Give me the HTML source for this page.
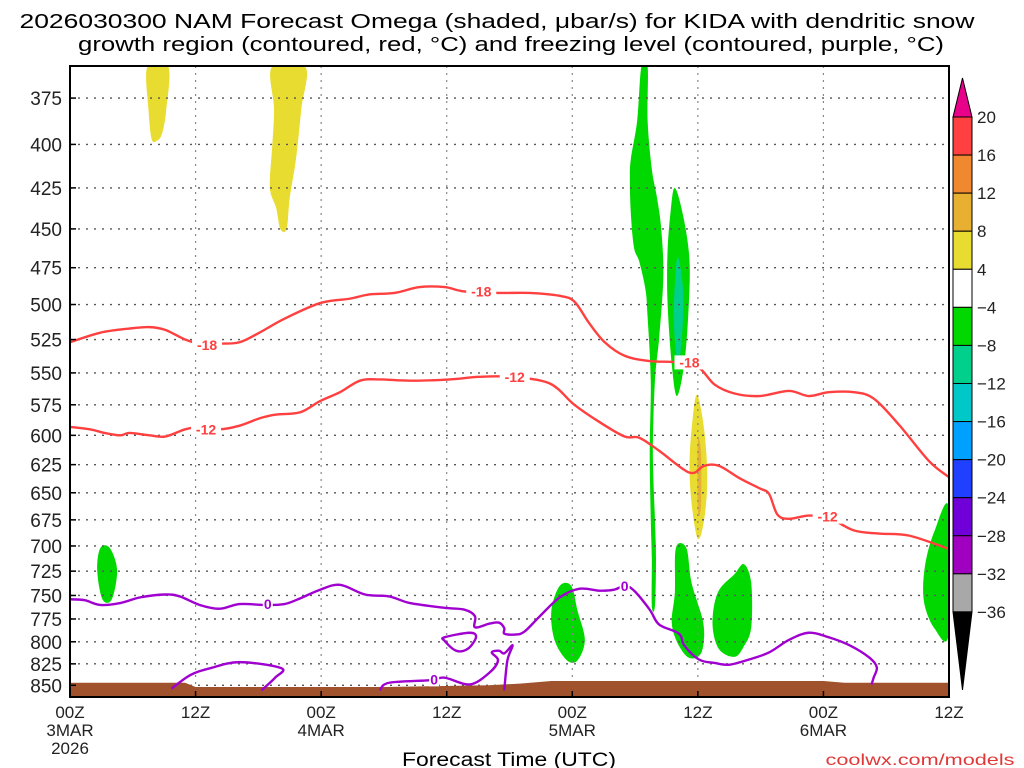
<!DOCTYPE html>
<html><head><meta charset="utf-8"><style>
body{margin:0;background:#fff;}
svg{display:block;font-family:"Liberation Sans",sans-serif;}
</style></head><body>
<svg id="c" width="1024" height="768" viewBox="0 0 1024 768" xmlns="http://www.w3.org/2000/svg">
<text x="497" y="28" text-anchor="middle" font-size="20" textLength="955" lengthAdjust="spacingAndGlyphs">2026030300 NAM Forecast Omega (shaded, μbar/s) for KIDA with dendritic snow</text>
<text x="511" y="51" text-anchor="middle" font-size="20" textLength="866" lengthAdjust="spacingAndGlyphs">growth region (contoured, red, °C) and freezing level (contoured, purple, °C)</text>
<g id="plot"></g>
<g id="cbar"></g>
<text x="509" y="766" text-anchor="middle" font-size="19" textLength="214" lengthAdjust="spacingAndGlyphs">Forecast Time (UTC)</text>
<text x="920" y="765" text-anchor="middle" font-size="16" fill="#e03838" textLength="189" lengthAdjust="spacingAndGlyphs">coolwx.com/models</text>
</svg>
<script>
const yTicks=[375,400,425,450,475,500,525,550,575,600,625,650,675,700,725,750,775,800,825,850];
const xTickHours=[0,12,24,36,48,60,72,84];
const xTickLabels=[["00Z","3MAR","2026"],["12Z"],["00Z","4MAR"],["12Z"],["00Z","5MAR"],["12Z"],["00Z","6MAR"],["12Z"]];
const cbLevels=[20,16,12,8,4,-4,-8,-12,-16,-20,-24,-28,-32,-36];
const cbColors=["#ff4040","#f08830","#e8b030","#e8dc30","#ffffff","#00d800","#00d08c","#00c8c8","#00a0ff","#2040ff","#7000d8","#a000c0","#a8a8a8"];
const sfcHours=[0,6,11,12,30,40,43,46,72,74,84];
const sfcP=[847,847,847,852,852,850,848,845,845,847,847];
const redM18H=[0,2.9,5.7,7.6,9.1,11,12.4,14.3,16.2,18.1,20.5,23.9,26.7,28.6,31,33.4,35.8,37.7,41,43.9,46.8,48.2,49.6,51.1,53,55.4,58.2,60.1,61.6,63.5,65.9,68.7,70.6,72.5,74.9,76.8,79.2,82.1,84];
const redM18P=[527,520,517,516,518,525,528,528,527,520,510,499,496,493,492,488,488,491,492,492,494,498,513,527,537,541,542,546,559,566,568,564,568,565,565,570,591,622,636];
const redM12H=[0,1.9,3.3,4.8,5.7,7.6,9.1,11,12.4,14.3,16.2,18.1,19.6,22,23.9,25.8,27.7,29.6,32.5,36.3,39.1,42,45.8,48.2,50.6,53,54.4,56.3,59.2,60.6,62,64,65.9,66.8,67.6,68.7,70.6,72.5,74.9,77.3,80.2,84];
const redM12P=[593,595,598,600,598,600,601,595,593,595,592,586,583,581,572,565,556,555,556,555,553,553,558,575,589,601,602,613,632,626,626,637,646,651,670,674,671,673,685,688,690,703];
const fz0H=[0,1.4,2.9,4.8,6.7,9.1,10.5,12.4,14.3,16.2,18.6,20.5,22,23.9,25.8,28.2,30.5,32.5,35.8,37.7,38.7,38.7,40.1,41,41.5,41.5,42.5,43.4,44.9,46.8,48.7,50.6,52,53,53.9,55.4,56.3,58.2,58.7,60.1,61.6,63,64.9,66.8,68.7,70.6,72.5,74.5,76.4,77.1,76.8,76.6];
const fz0P=[754,755,760,758,752,749,751,760,764,759,760,759,753,744,739,749,751,758,763,765,772,784,780,779,785,791,792,789,772,752,743,745,744,740,745,765,781,791,804,820,824,826,820,812,798,790,795,804,818,829,841,849];
const fzAH=[9.7,11.5,13.4,16.2,20.2,19.6,18.3];
const fzAP=[854,838,830,823,830,841,856];
const fzBH=[29.6,30.5,34.4,35.8,38.2,40.1,40.9,40.3,41,41.5,42.3,41.8,41.5];
const fzBP=[856,847,844,841,849,835,821,812,810,813,804,821,856];
const fzCH=[35.8,38.2,38.8,38,36.9,35.8,35.8];
const fzCP=[795,790,795,808,810,799,795];
const omegaVals=[6,6,-6,-6,-10,6,10,-6,-6,-6,-6,-6];
const omegaH=[
[7.4,9.4,9.2,8.8,8.3,7.8,7.5],
[19.3,22.5,22.1,21.6,21,20.7,20.1,19.7,19.1,19.3,19.5],
[54.6,55.2,55.2,55.6,56.1,56.5,56.7,56.3,55.9,55.7,55.9,56,55.9,55.6,55.6,55.5,55.4,55.5,55.2,55,54.4,53.9,53.6,53.5,53.6,54.2],
[57.8,58.6,59.2,59.1,58.7,58,57.5,57.1,57.1,57.4],
[58.1,58.6,58.5,58.1,57.7,57.8],
[59.9,60.6,60.9,60.6,60,59.4,59.2,59.4],
[60,60.3,60.3,60],
[57.9,58.9,59.4,60.5,60.5,60,59,58,57.5,57.8],
[64.4,65.1,65.1,64.4,63.5,62,61.4,61.9,63.5],
[46.8,47.9,48.5,49.2,48.5,47.5,46.3,46],
[2.9,3.8,4.5,4,3.1,2.6],
[84,84,82.6,81.6,81.7,82.6]];
const omegaP=[
[359,359,381,394,398,397,381],
[359,359,381,408,431,450,450,437,425,403,381],
[359,359,387,414,431,450,481,524,556,614,675,712,761,761,712,675,614,556,509,490,471,462,441,420,408,387],
[425,442,470,505,543,568,543,498,465,439],
[468,491,521,543,513,486],
[567,595,637,675,693,660,626,595],
[605,615,662,666],
[702,702,737,778,805,817,817,800,778,747],
[718,737,784,805,817,808,780,747,728],
[740,740,766,798,821,821,798,766],
[702,702,724,754,754,724],
[664,790,785,756,720,686]];
const labelTexts=["-18","-18","-18","-12","-12","-12","0","0","0"];
const labelH=[13.1,39.3,59.2,13,42.5,72.4,18.9,53,34.8];
const labelP=[529,491,542,595,553,672,759,740,843];

const NS="http://www.w3.org/2000/svg";
const X0=70,X1=949,PT=358.6,PB=864,Y0=66,Y1=697;
const K=(Y1-Y0)/Math.log(PB/PT);
function xs(h){return X0+h*(X1-X0)/84;}
function ys(p){return Y0+K*Math.log(p/PT);}
function mk(tag,attrs,parent){const e=document.createElementNS(NS,tag);for(const k in attrs)e.setAttribute(k,attrs[k]);parent.appendChild(e);return e;}
function colorFor(v){for(let i=0;i<cbColors.length;i++){if(v<=cbLevels[i]&&v>cbLevels[i+1])return cbColors[i];}return v>20?"#e8008a":"#000";}
function smooth(P,closed){
 const n=P.length;let d='M'+P[0][0]+','+P[0][1];
 const g=i=>closed?P[(i+n)%n]:P[Math.max(0,Math.min(n-1,i))];
 const m=closed?n:n-1;
 for(let i=0;i<m;i++){
  const p0=g(i-1),p1=g(i),p2=g(i+1),p3=g(i+2);
  const c1=[p1[0]+(p2[0]-p0[0])/6,p1[1]+(p2[1]-p0[1])/6];
  const c2=[p2[0]-(p3[0]-p1[0])/6,p2[1]-(p3[1]-p1[1])/6];
  d+=` C${c1[0]},${c1[1]} ${c2[0]},${c2[1]} ${p2[0]},${p2[1]}`;
 }
 return d+(closed?' Z':'');
}
const plot=document.getElementById('plot');
const cb=document.getElementById('cbar');
const defs=mk('defs',{},plot);
const cp=mk('clipPath',{id:'pc'},defs);
mk('rect',{x:X0,y:Y0,width:X1-X0,height:Y1-Y0},cp);
const inner=mk('g',{'clip-path':'url(#pc)'},plot);
omegaH.forEach((hs,i)=>{
 const pts=hs.map((h,j)=>[xs(h),ys(omegaP[i][j])]);
 const e=mk('path',{d:smooth(pts,true),fill:colorFor(omegaVals[i])},inner);
 
 
});
yTicks.forEach(p=>{
 const g=mk('line',{x1:X0,x2:X1,y1:ys(p),y2:ys(p),stroke:'#555','stroke-width':1.4,'stroke-dasharray':'2 6'},inner);
 
 
});
xTickHours.forEach(h=>{
 const g=mk('line',{x1:xs(h),x2:xs(h),y1:Y0,y2:Y1,stroke:'#888','stroke-width':1.2,'stroke-dasharray':'2 5'},inner);
 
 
});
let tp='M'+xs(0)+','+Y1;
sfcHours.forEach((h,i)=>{tp+=' L'+xs(h)+','+ys(sfcP[i]);});
tp+=' L'+xs(84)+','+Y1+' Z';
const terr=mk('path',{d:tp,fill:'#a0522d'},inner);


function line(H,P,color,name,closed){
 const pts=H.map((h,j)=>[xs(h),ys(P[j])]);
 const e=mk('path',{d:smooth(pts,closed),fill:'none',stroke:color,'stroke-width':2.4,'stroke-linejoin':'round'},inner);
 
 
}
line(redM18H,redM18P,'#ff4040','contour-minus18',false);
line(redM12H,redM12P,'#ff4040','contour-minus12',false);
line(fz0H,fz0P,'#a000d0','freezing-level-main',false);
line(fzAH,fzAP,'#a000d0','freezing-level-a',false);
line(fzBH,fzBP,'#a000d0','freezing-level-b',false);
line(fzCH.slice(0,-1),fzCP.slice(0,-1),'#a000d0','freezing-level-c',true);
labelTexts.forEach((t,i)=>{
 const col=t==='0'?'#a000d0':'#ff4040';
 const w=t.length*10;
 mk('rect',{x:xs(labelH[i])-w/2,y:ys(labelP[i])-7,width:w,height:14,fill:'#fff'},inner);
 const e=mk('text',{x:xs(labelH[i]),y:ys(labelP[i])+5,'text-anchor':'middle','font-size':14,'font-weight':'bold',fill:col},inner);
 e.textContent=t;
 
 
});
const bd=mk('rect',{x:X0,y:Y0,width:X1-X0,height:Y1-Y0,fill:'none',stroke:'#000','stroke-width':2},plot);


yTicks.forEach(p=>{
 mk('line',{x1:X0,x2:X0+6,y1:ys(p),y2:ys(p),stroke:'#000','stroke-width':1.5},plot);
 const t=mk('text',{x:62,y:ys(p)+7,'text-anchor':'end','font-size':19,fill:'#222'},plot);
 t.textContent=p;
 
 
});
xTickHours.forEach((h,i)=>{
 mk('line',{x1:xs(h),x2:xs(h),y1:Y1,y2:Y1-6,stroke:'#000','stroke-width':1.5},plot);
 xTickLabels[i].forEach((s,j)=>{
  const t=mk('text',{x:xs(h),y:718+j*18,'text-anchor':'middle','font-size':17,fill:'#222'},plot);
  t.textContent=s;
  
  
 });
});
const CX=953,CW=19,CT=117,CS=38.07;
const tri=mk('polygon',{points:`${CX},${CT} ${CX+CW},${CT} ${CX+CW/2},78`,fill:'#e8008a',stroke:'#000','stroke-width':1},cb);


cbColors.forEach((c,i)=>{
 const r=mk('rect',{x:CX,y:CT+i*CS,width:CW,height:CS,fill:c,stroke:'#000','stroke-width':1},cb);
 
 
});
const yb=CT+cbColors.length*CS;
const tri2=mk('polygon',{points:`${CX},${yb} ${CX+CW},${yb} ${CX+CW/2},690`,fill:'#000',stroke:'#000','stroke-width':1},cb);


cbLevels.forEach((v,i)=>{
 const t=mk('text',{x:977,y:CT+i*CS+6,'font-size':17,fill:'#222'},cb);
 t.textContent=v<0?'\u2212'+(-v):String(v);
 
 
});
</script>
</body></html>
